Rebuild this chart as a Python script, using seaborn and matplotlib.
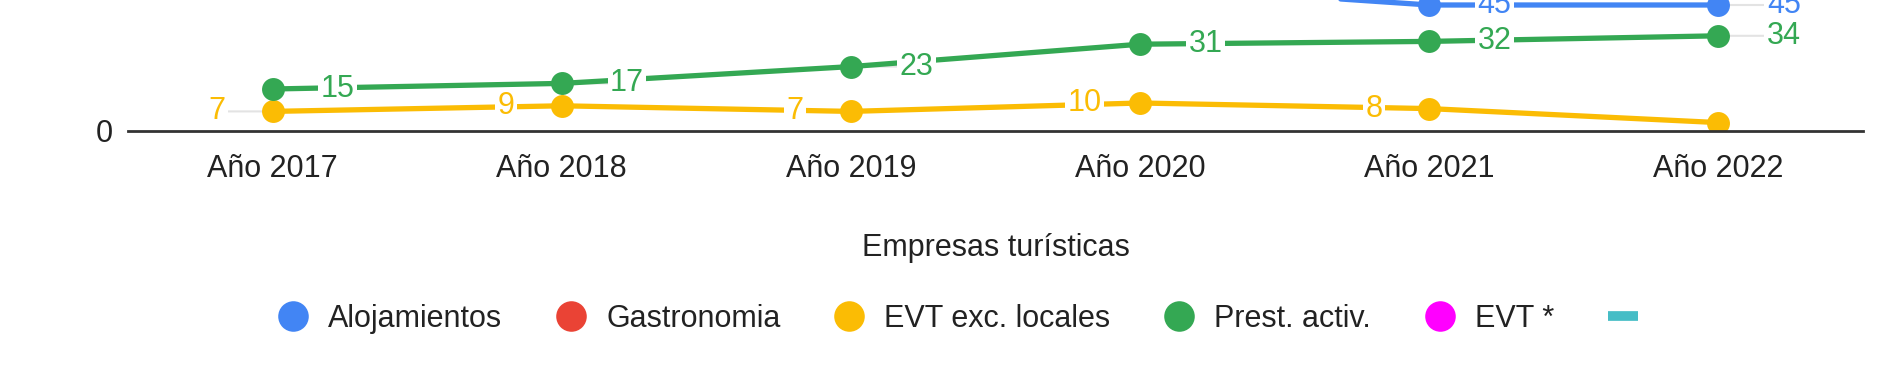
"""Empresas turísticas: line chart, bottom band of a Google-style chart."""

import matplotlib
matplotlib.use("Agg")
import matplotlib.pyplot as plt
from matplotlib.lines import Line2D
import pandas as pd
import seaborn as sns

# ---- data -------------------------------------------------------------
years = ["Año 2017", "Año 2018", "Año 2019", "Año 2020", "Año 2021", "Año 2022"]
series_names = ["Alojamientos", "Gastronomia", "EVT exc. locales", "Prest. activ.", "EVT *"]

# upper series are cut off by the crop; values above the frame are estimates
alojamientos = [62, 64, 60, 52, 45, 45]
gastronomia = [110, 112, 108, 100, 115, 118]
evt_exc_locales = [7, 9, 7, 10, 8, 3]
prest_activ = [15, 17, 23, 31, 32, 34]
evt_star = [70, 72, 68, 60, 75, 78]

# which value labels are shown per visible series
label_side = {"Alojamientos": 1, "EVT exc. locales": -1, "Prest. activ.": 1}
hidden_labels = {
    ("EVT exc. locales", "Año 2022"),
    ("Alojamientos", "Año 2017"),
    ("Alojamientos", "Año 2018"),
    ("Alojamientos", "Año 2019"),
    ("Alojamientos", "Año 2020"),
}

colors = {
    "Alojamientos": "#4285F4",
    "Gastronomia": "#EA4335",
    "EVT exc. locales": "#FBBC04",
    "Prest. activ.": "#34A853",
    "EVT *": "#FF00FF",
}
extra_color = "#46BDC6"

values = [alojamientos, gastronomia, evt_exc_locales, prest_activ, evt_star]
df = pd.DataFrame(
    [(s, y, v) for s, vals in zip(series_names, values) for y, v in zip(years, vals)],
    columns=["serie", "anio", "valor"],
)

# ---- style ------------------------------------------------------------
sns.set_theme(style="white")
plt.rcParams["font.family"] = ["Liberation Sans", "DejaVu Sans"]
FS = 22

fig = plt.figure(figsize=(18.82, 3.88), dpi=100)
W, H = 1882, 388
ax = fig.add_axes([128 / W, (H - 131) / H, 1735 / W, 560 / H])

sns.lineplot(
    data=df, x="anio", y="valor", hue="serie", hue_order=series_names,
    palette=colors, marker="o", markersize=16.5, markeredgewidth=0,
    linewidth=3.8, sort=False, legend=False, ax=ax,
)

ax.set_xlim(-0.5, len(years) - 0.5)
ax.set_ylim(0, 200)
ax.set_yticks([0])
ax.tick_params(axis="both", length=0, labelsize=FS, colors="#222222")
ax.tick_params(axis="x", pad=16.5)
ax.tick_params(axis="y", pad=11)
for side in ["top", "left", "right"]:
    ax.spines[side].set_visible(False)
ax.spines["bottom"].set_color("#333333")
ax.spines["bottom"].set_linewidth(2.0)
ax.grid(False)

ax.set_ylabel("")
ax.set_xlabel("Empresas turísticas", fontsize=FS, color="#222222")
ax.xaxis.set_label_coords(0.5, -0.183)

# value labels with a faint stem
for name, side in label_side.items():
    vals = df[df.serie == name]
    for i, (y, v) in enumerate(zip(vals.anio, vals.valor)):
        if (name, y) in hidden_labels:
            continue
        dx = 47 if side > 0 else -40
        ax.annotate("", xy=(i, v), xytext=(dx, 0), textcoords="offset points",
                    arrowprops=dict(arrowstyle="-", color="#e3e3e3", lw=1.5,
                                    shrinkA=0, shrinkB=0), zorder=1)
        ax.annotate(str(v), xy=(i, v), xytext=(dx, 0), textcoords="offset points",
                    ha="center", va="center", fontsize=FS, color=colors[name],
                    bbox=dict(boxstyle="square,pad=0.08", fc="white", ec="none"),
                    zorder=5)

# legend
handles = [Line2D([], [], marker="o", linestyle="", markersize=22,
                  markeredgewidth=0, color=colors[s]) for s in series_names]
handles.append(Line2D([], [], color=extra_color, lw=7, solid_capstyle="butt"))
labels = series_names + [""]
fig.legend(handles, labels, loc="center", bbox_to_anchor=(968 / W, (H - 319) / H),
           ncol=6, frameon=False, fontsize=FS, handlelength=1.0,
           handletextpad=0.65, columnspacing=1.75, labelcolor="#222222")

fig.savefig("out.png", dpi=100)
